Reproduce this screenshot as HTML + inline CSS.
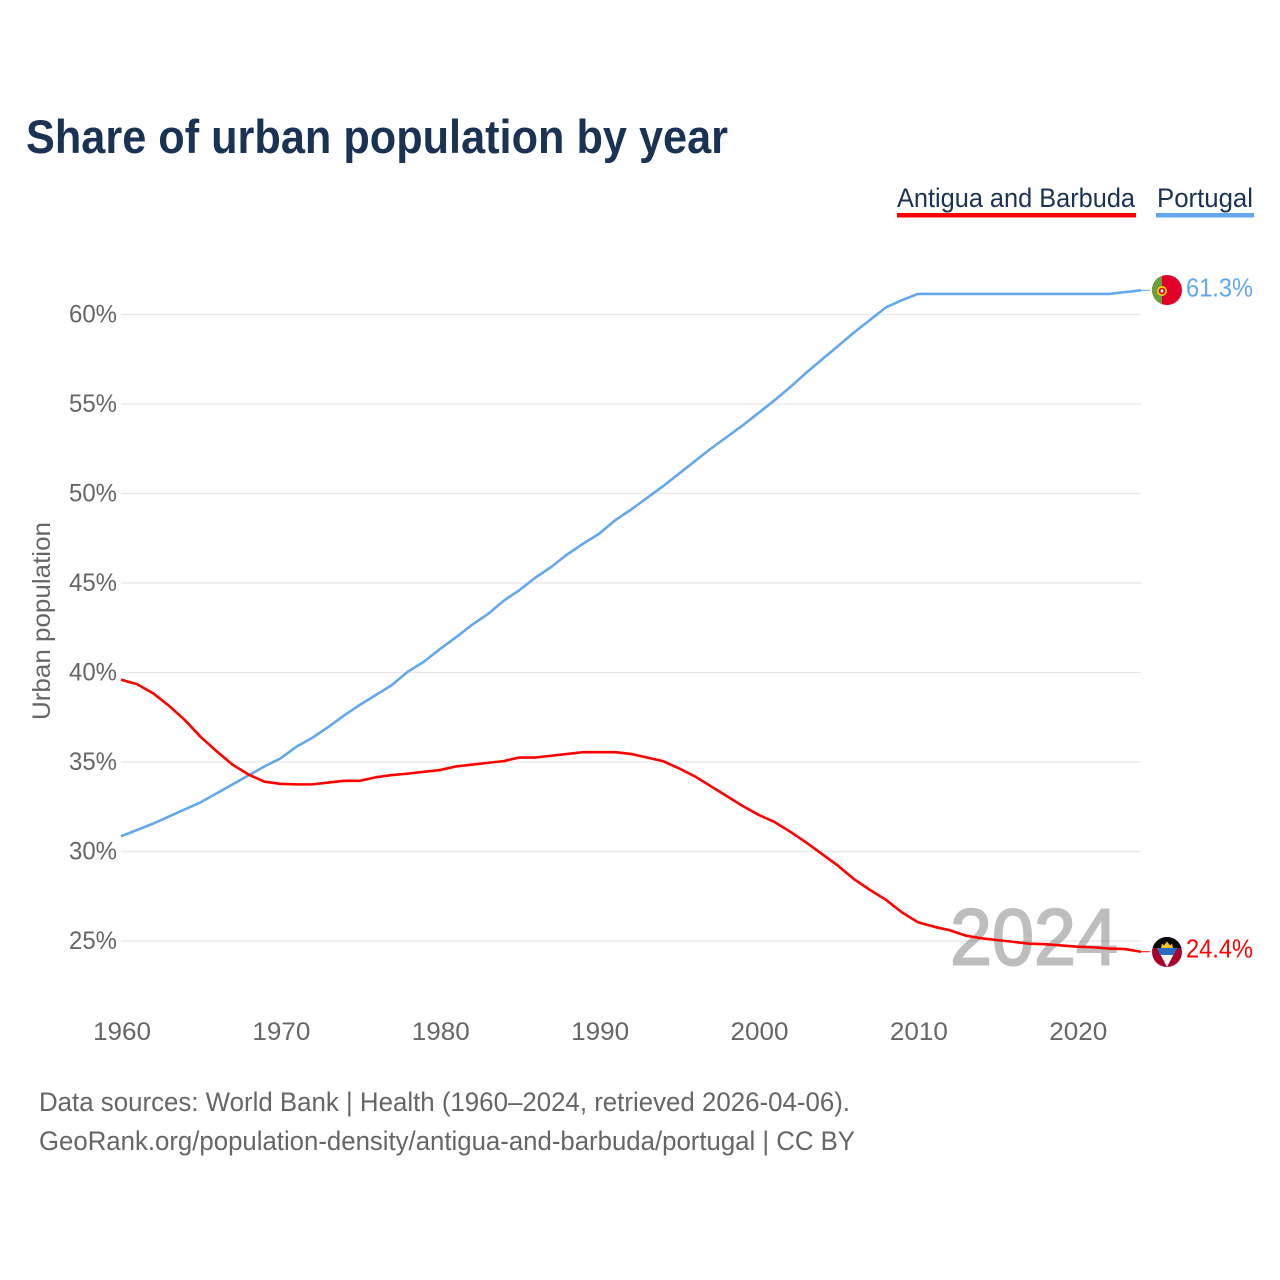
<!DOCTYPE html>
<html lang="en">
<head>
<meta charset="utf-8">
<title>Share of urban population by year</title>
<style>
html,body{margin:0;padding:0;background:#fff;width:1280px;height:1280px;overflow:hidden}
svg{display:block}
text{font-family:"Liberation Sans",sans-serif}
</style>
</head>
<body>
<svg id="chart" xmlns="http://www.w3.org/2000/svg" width="1280" height="1280" viewBox="0 0 1280 1280">
  <defs>
    <clipPath id="clip-pt"><circle cx="1167" cy="290" r="15"/></clipPath>
    <clipPath id="clip-ag"><circle cx="1167" cy="952" r="15"/></clipPath>
  </defs>
  <text x="26" y="153" font-size="47" font-weight="700" fill="#1a3354" textLength="702" lengthAdjust="spacingAndGlyphs">Share of urban population by year</text>

  <g>
    <g>
      <text x="897" y="207" font-size="27" fill="#1a3354" textLength="238" lengthAdjust="spacingAndGlyphs">Antigua and Barbuda</text>
      <rect x="897" y="213" width="239" height="4.5" fill="#ff0000"/>
    </g>
    <g>
      <text x="1157" y="207" font-size="27" fill="#1a3354" textLength="96" lengthAdjust="spacingAndGlyphs">Portugal</text>
      <rect x="1156" y="213" width="98" height="4.5" fill="#63a8ec"/>
    </g>
  </g>

  <g id="grid"></g>
  <g id="yticks"></g>
  <g id="xticks"></g>
  <text transform="translate(50 720) rotate(-90)" font-size="25" fill="#666666" textLength="198" lengthAdjust="spacingAndGlyphs">Urban population</text>

  <text x="950" y="964.5" font-size="80" fill="#000000" stroke="#000000" stroke-width="2" opacity="0.25" textLength="168" lengthAdjust="spacingAndGlyphs">2024</text>

  <g id="series"></g>

  <g clip-path="url(#clip-pt)">
    <rect x="1152" y="275" width="30" height="30" fill="#e0002a"/>
    <rect x="1152" y="275" width="10" height="30" fill="#6a9f3e"/>
    <circle cx="1162" cy="291" r="5" fill="#f5d400"/>
    <circle cx="1162" cy="291" r="3.3" fill="#d4002a"/>
    <rect x="1160.7" y="289.5" width="2.6" height="3" fill="#ffffff"/>
  </g>
  <g clip-path="url(#clip-ag)">
    <rect x="1152" y="937" width="30" height="30" fill="#a8002a"/>
    <rect x="1152" y="937" width="30" height="11" fill="#0a0a0a"/>
    <polygon points="1157,948 1177,948 1167,967" fill="#f4f4f4"/>
    <polygon points="1157,948 1177,948 1174,955 1160,955" fill="#2a6cc0"/>
    <path d="M1161 948 L1162 943.5 L1164 945.5 L1167 941.5 L1170 945.5 L1172 943.5 L1173 948 Z" fill="#f5c518"/>
  </g>

  <text x="1186" y="296.5" font-size="26" fill="#63a8ec" textLength="67" lengthAdjust="spacingAndGlyphs">61.3%</text>
  <text x="1186" y="957.5" font-size="26" fill="#ff0000" textLength="67" lengthAdjust="spacingAndGlyphs">24.4%</text>

  <text x="39" y="1111" font-size="27" fill="#666666" textLength="811" lengthAdjust="spacingAndGlyphs">Data sources: World Bank | Health (1960–2024, retrieved 2026-04-06).</text>
  <text x="39" y="1150" font-size="27" fill="#666666" textLength="816" lengthAdjust="spacingAndGlyphs">GeoRank.org/population-density/antigua-and-barbuda/portugal | CC BY</text>
</svg>
<script>
var startYear = 1960;
var antiguaValues = [39.6,39.35,38.85,38.15,37.35,36.4,35.6,34.85,34.3,33.9,33.78,33.75,33.75,33.85,33.95,33.95,34.15,34.27,34.35,34.45,34.55,34.75,34.85,34.95,35.05,35.25,35.25,35.35,35.45,35.55,35.55,35.55,35.45,35.25,35.05,34.65,34.2,33.65,33.1,32.55,32.05,31.65,31.1,30.5,29.85,29.2,28.45,27.85,27.3,26.6,26.05,25.8,25.6,25.3,25.15,25.05,24.95,24.85,24.82,24.75,24.68,24.65,24.58,24.55,24.4];
var portugalValues = [30.85,31.2,31.55,31.95,32.35,32.75,33.25,33.75,34.25,34.75,35.2,35.85,36.35,36.95,37.6,38.2,38.75,39.3,40.05,40.6,41.3,41.95,42.65,43.25,44,44.6,45.3,45.9,46.6,47.2,47.75,48.5,49.1,49.75,50.4,51.1,51.8,52.5,53.15,53.8,54.5,55.2,55.95,56.75,57.5,58.25,59,59.7,60.4,60.8,61.15,61.15,61.15,61.15,61.15,61.15,61.15,61.15,61.15,61.15,61.15,61.15,61.15,61.25,61.35];
var yTickValues = [25,30,35,40,45,50,55,60];
var xTickValues = [1960,1970,1980,1990,2000,2010,2020];

var NS = 'http://www.w3.org/2000/svg';
function xScale(year){ return 121 + (year - 1960) * (1141 - 121) / 64; }
function yScale(v){ return 941 - (v - 25) * (941 - 314.5) / 35; }
function make(tag, parent, attrs){
  var el = document.createElementNS(NS, tag);
  for (var k in attrs) el.setAttribute(k, attrs[k]);
  parent.appendChild(el);
  return el;
}
var grid = document.getElementById('grid');
var yticks = document.getElementById('yticks');
var xticks = document.getElementById('xticks');
var series = document.getElementById('series');

yTickValues.forEach(function(v){
  var y = yScale(v);
  var line = make('line', grid, {x1:121, x2:1141, y1:y, y2:y, stroke:'#e8e8e8', 'stroke-width':1.3});
  
  
  var t = make('text', yticks, {x:117, y:y + 8, 'font-size':25, fill:'#666666', 'text-anchor':'end', textLength:48, lengthAdjust:'spacingAndGlyphs'});
  t.textContent = v + '%';
  
  
});
xTickValues.forEach(function(year){
  var t = make('text', xticks, {x:xScale(year) + 1, y:1040, 'font-size':25, fill:'#666666', 'text-anchor':'middle', textLength:58, lengthAdjust:'spacingAndGlyphs'});
  t.textContent = year;
  
  
});
function pathFor(values){
  return values.map(function(v, i){
    return (i ? 'L' : 'M') + xScale(startYear + i).toFixed(2) + ' ' + yScale(v).toFixed(2);
  }).join(' ');
}
function connector(values, color){
  var last = values[values.length - 1];
  var lastYear = startYear + values.length - 1;
  return make('line', series, {x1:xScale(lastYear), x2:xScale(lastYear) + 9, y1:yScale(last), y2:yScale(last), stroke:color, 'stroke-width':1});
}
var portugalLine = make('path', series, {d:pathFor(portugalValues), fill:'none', stroke:'#63a8ec', 'stroke-width':2.6, 'stroke-linejoin':'round'});


var antiguaLine = make('path', series, {d:pathFor(antiguaValues), fill:'none', stroke:'#ff0000', 'stroke-width':2.6, 'stroke-linejoin':'round'});


var portugalConnector = connector(portugalValues, '#63a8ec');


var antiguaConnector = connector(antiguaValues, '#ff0000');


</script>
</body>
</html>
